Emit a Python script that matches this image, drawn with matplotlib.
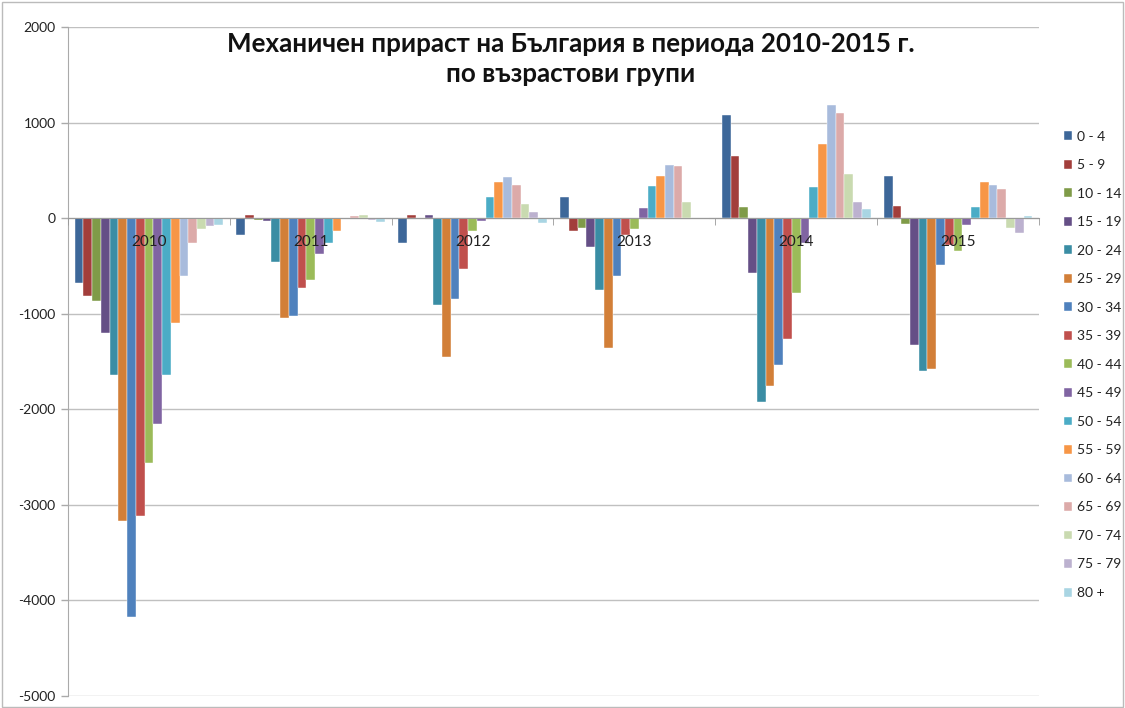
import matplotlib
matplotlib.use("Agg")
import matplotlib.pyplot as plt
import numpy as np
from matplotlib.patches import Rectangle

plt.rcParams['font.family'] = ['Lato', 'DejaVu Sans']
plt.rcParams['axes.unicode_minus'] = False

years = ["2010", "2011", "2012", "2013", "2014", "2015"]
age_groups = ["0 - 4", "5 - 9", "10 - 14", "15 - 19", "20 - 24", "25 - 29",
              "30 - 34", "35 - 39", "40 - 44", "45 - 49", "50 - 54", "55 - 59",
              "60 - 64", "65 - 69", "70 - 74", "75 - 79", "80 +"]

# values per age group, one entry per year (2010..2015)
g_0_4   = [-680, -180, -265, 216, 1077, 436]
g_5_9   = [-815, 31, 31, -132, 649, 126]
g_10_14 = [-865, -17, -5, -108, 119, -63]
g_15_19 = [-1205, -31, 31, -307, -572, -1328]
g_20_24 = [-1645, -464, -913, -757, -1928, -1597]
g_25_29 = [-3165, -1046, -1454, -1360, -1754, -1583]
g_30_34 = [-4170, -1029, -851, -603, -1538, -492]
g_35_39 = [-3115, -732, -527, -178, -1266, -282]
g_40_44 = [-2565, -652, -136, -115, -788, -349]
g_45_49 = [-2155, -377, -35, 105, -265, -73]
g_50_54 = [-1645, -258, 223, 335, 321, 119]
g_55_59 = [-1100, -132, 373, 446, 771, 373]
g_60_64 = [-603, -10, 429, 561, 1179, 349]
g_65_69 = [-258, 21, 352, 547, 1095, 307]
g_70_74 = [-115, 28, 143, 174, 460, -105]
g_75_79 = [-84, -21, 63, -5, 167, -160]
g_80    = [-73, -42, -52, -14, 98, 21]

series = [g_0_4, g_5_9, g_10_14, g_15_19, g_20_24, g_25_29, g_30_34, g_35_39,
          g_40_44, g_45_49, g_50_54, g_55_59, g_60_64, g_65_69, g_70_74, g_75_79, g_80]

colors = ["#3D6799", "#A23E3B", "#7F9B48", "#654F86", "#3A8DA4", "#D27F38",
          "#4F81BD", "#C0504D", "#9BBB59", "#8064A2", "#4BACC6", "#F79646",
          "#A8BBDC", "#DCAAA9", "#C9DAB0", "#BCB1CF", "#A9D5E3"]

title = "Механичен прираст на България в периода 2010-2015 г.\nпо възрастови групи"

fig = plt.figure(figsize=(11.25, 7.08), dpi=100)
ax = fig.add_axes([68/1125, 1-696/708, (1039-68)/1125, (696-27)/708])

x = np.arange(len(years))
n = len(series)
w = 0.054
for i, (vals, c) in enumerate(zip(series, colors)):
    ax.bar(x + (i - (n-1)/2) * w, vals, width=w, color=c, label=age_groups[i],
           edgecolor='white', linewidth=0.3, zorder=3)

ax.set_xlim(-0.5, len(years) - 0.5)
ax.set_ylim(-5000, 2000)
ax.set_yticks(np.arange(-5000, 2001, 1000))
ax.yaxis.grid(True, color='#C0C0C0', linewidth=1.0, zorder=0)
ax.tick_params(axis='y', labelsize=10, length=5, width=1,
               direction='out', pad=4, color='#AAAAAA', labelcolor='#222222')

for s in ['top', 'right']:
    ax.spines[s].set_visible(False)
ax.spines['left'].set_color('#AAAAAA')
ax.spines['bottom'].set_position(('data', 0))
ax.spines['bottom'].set_color('#999999')
ax.spines['bottom'].set_zorder(4)

ax.set_xticks(x)
ax.set_xticklabels(years)
ax.set_xticks(np.arange(-0.5, len(years) + 0.5, 1), minor=True)
ax.tick_params(axis='x', which='major', length=0, pad=12, labelsize=11, labelcolor='#222222')
ax.tick_params(axis='x', which='minor', length=5, color='#999999', direction='out')
ax.xaxis.set_zorder(6)
ax.yaxis.set_zorder(0.5)

fig.text(0.507, 0.917, title, ha='center', va='center', fontsize=18.7,
         fontweight='bold', linespacing=1.3, color='#111111')

leg = ax.legend(loc='upper left', bbox_to_anchor=(1058/1125, 1-125/708),
                bbox_transform=fig.transFigure, frameon=False, fontsize=10,
                handlelength=0.6, handleheight=0.6, handletextpad=0.4,
                labelspacing=1.19, borderaxespad=0)
for t in leg.get_texts():
    t.set_color('#222222')

fig.add_artist(Rectangle((0.002, 0.002), 0.996, 0.995, transform=fig.transFigure,
                         fill=False, edgecolor='#BBBBBB', linewidth=1))

fig.savefig("out.png", dpi=100)
